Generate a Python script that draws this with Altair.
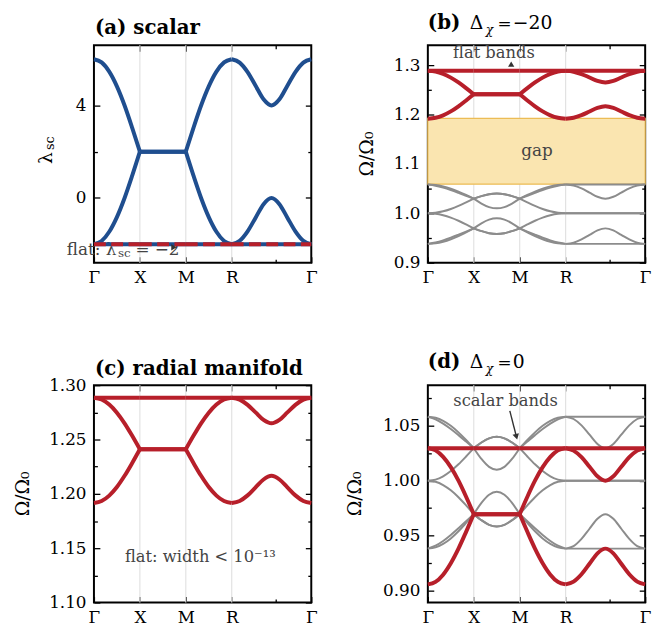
import altair as alt
import pandas as pd

# ---------------- data ----------------
K = [0.0, 0.167, 0.333, 0.5, 0.667, 0.833, 1.0,
     1.167, 1.333, 1.5, 1.667, 1.833, 2.0,
     2.167, 2.333, 2.5, 2.667, 2.833, 3.0,
     3.173, 3.346, 3.52, 3.693, 3.866, 4.039, 4.212, 4.386, 4.559, 4.732]
K_TICKS = [0.0, 1.0, 2.0, 3.0, 4.732]
K_LABELS = ["Γ", "X", "M", "R", "Γ"]
K_GRID = [1.0, 2.0, 3.0]
K_MINOR = [3.96]
SEGMENTS = [(0, 6), (6, 12), (12, 18), (18, 28)]

# (a) scalar bands
LAM_UP = [6.0, 5.864, 5.464, 4.828, 4.0, 3.035, 2.0,
          2.0, 2.0, 2.0, 2.0, 2.0, 2.0,
          3.035, 4.0, 4.828, 5.464, 5.864, 6.0,
          5.854, 5.443, 4.854, 4.268, 4.0, 4.268, 4.854, 5.443, 5.854, 6.0]
LAM_LO = [-2.0, -1.864, -1.464, -0.828, 0.0, 0.965, 2.0,
          2.0, 2.0, 2.0, 2.0, 2.0, 2.0,
          0.965, 0.0, -0.828, -1.464, -1.864, -2.0,
          -1.854, -1.443, -0.854, -0.268, 0.0, -0.268, -0.854, -1.443, -1.854, -2.0]
LAM_FLAT = [-2.0] * 29

# (b),(c) radial-manifold bands
RC_UP = [1.2884, 1.2868, 1.2822, 1.2747, 1.2649, 1.2534, 1.2410,
         1.2410, 1.2410, 1.2410, 1.2410, 1.2410, 1.2410,
         1.2534, 1.2649, 1.2747, 1.2822, 1.2868, 1.2884,
         1.2867, 1.2819, 1.2750, 1.2681, 1.2649, 1.2681, 1.2750, 1.2819, 1.2867, 1.2884]
RC_LO = [1.1916, 1.1934, 1.1984, 1.2063, 1.2166, 1.2284, 1.2410,
         1.2410, 1.2410, 1.2410, 1.2410, 1.2410, 1.2410,
         1.2284, 1.2166, 1.2063, 1.1984, 1.1934, 1.1916,
         1.1935, 1.1986, 1.2060, 1.2132, 1.2166, 1.2132, 1.2060, 1.1986, 1.1935, 1.1916]
RC_FLAT = [1.2884] * 29

# (d) bands
RD_UP = [1.0296, 1.0276, 1.0217, 1.0123, 1.0000, 0.9854, 0.9695,
         0.9695, 0.9695, 0.9695, 0.9695, 0.9695, 0.9695,
         0.9854, 1.0000, 1.0123, 1.0217, 1.0276, 1.0296,
         1.0274, 1.0214, 1.0127, 1.0040, 1.0000, 1.0040, 1.0127, 1.0214, 1.0274, 1.0296]
RD_LO = [0.9055, 0.9078, 0.9144, 0.9248, 0.9381, 0.9534, 0.9695,
         0.9695, 0.9695, 0.9695, 0.9695, 0.9695, 0.9695,
         0.9534, 0.9381, 0.9248, 0.9144, 0.9078, 0.9055,
         0.9080, 0.9147, 0.9243, 0.9338, 0.9381, 0.9338, 0.9243, 0.9147, 0.9080, 0.9055]
RD_FLAT = [1.0296] * 29

# gray (other) bands, panels (b) and (d)
G1 = [1.0583, 1.0573, 1.0545, 1.0500, 1.0440, 1.0371, 1.0296,
      1.0348, 1.0386, 1.0400, 1.0386, 1.0348, 1.0296,
      1.0371, 1.0440, 1.0500, 1.0545, 1.0573, 1.0583,
      1.0583, 1.0583, 1.0583, 1.0583, 1.0583, 1.0583, 1.0583, 1.0583, 1.0583, 1.0583]
G2 = [1.0583, 1.0559, 1.0520, 1.0471, 1.0415, 1.0356, 1.0296,
      1.0348, 1.0386, 1.0400, 1.0386, 1.0348, 1.0296,
      1.0356, 1.0415, 1.0471, 1.0520, 1.0559, 1.0583,
      1.0562, 1.0504, 1.0419, 1.0335, 1.0296, 1.0335, 1.0419, 1.0504, 1.0562, 1.0583]
G3 = [1.0000, 1.0010, 1.0040, 1.0088, 1.0149, 1.0220, 1.0296,
      1.0198, 1.0126, 1.0100, 1.0126, 1.0198, 1.0296,
      1.0220, 1.0149, 1.0088, 1.0040, 1.0010, 1.0000,
      1.0000, 1.0000, 1.0000, 1.0000, 1.0000, 1.0000, 1.0000, 1.0000, 1.0000, 1.0000]
G4 = [1.0000, 0.9990, 0.9960, 0.9912, 0.9849, 0.9775, 0.9695,
      0.9798, 0.9872, 0.9899, 0.9872, 0.9798, 0.9695,
      0.9775, 0.9849, 0.9912, 0.9960, 0.9990, 1.0000,
      1.0000, 1.0000, 1.0000, 1.0000, 1.0000, 1.0000, 1.0000, 1.0000, 1.0000, 1.0000]
G5 = [0.9381, 0.9408, 0.9451, 0.9506, 0.9567, 0.9630, 0.9695,
      0.9640, 0.9598, 0.9583, 0.9598, 0.9640, 0.9695,
      0.9630, 0.9567, 0.9506, 0.9451, 0.9408, 0.9381,
      0.9404, 0.9470, 0.9562, 0.9654, 0.9695, 0.9654, 0.9562, 0.9470, 0.9404, 0.9381]
G6 = [0.9381, 0.9392, 0.9424, 0.9474, 0.9539, 0.9615, 0.9695,
      0.9640, 0.9598, 0.9583, 0.9598, 0.9640, 0.9695,
      0.9615, 0.9539, 0.9474, 0.9424, 0.9392, 0.9381,
      0.9381, 0.9381, 0.9381, 0.9381, 0.9381, 0.9381, 0.9381, 0.9381, 0.9381, 0.9381]

GAP = [1.059, 1.192]

# y axes
YDOM_A, YMAJ_A, YMIN_A = [-2.8, 6.6], [0, 4], [-2, 2, 6]
YDOM_B, YMAJ_B, YMIN_B = [0.9, 1.34], [0.9, 1.0, 1.1, 1.2, 1.3], [0.95, 1.05, 1.15, 1.25]
YDOM_C, YMAJ_C, YMIN_C = [1.10, 1.30], [1.10, 1.15, 1.20, 1.25, 1.30], [1.125, 1.175, 1.225, 1.275]
YDOM_D, YMAJ_D, YMIN_D = [0.889, 1.087], [0.90, 0.95, 1.00, 1.05], [0.925, 0.975, 1.025, 1.075]

# ---------------- style ----------------
FONT = "DejaVu Serif"
BLUE = "#1f4e8f"
RED = "#b71f2a"
GRAY = "#8c8c8c"
GRIDC = "#e2e2e2"
TEXTC = "#444444"
W, H = 220, 220

XLABEL_EXPR = "''"
for t, lab in reversed(list(zip(K_TICKS, K_LABELS))):
    XLABEL_EXPR = f"abs(datum.value - {t}) < 0.01 ? '{lab}' : ({XLABEL_EXPR})"

ONE = pd.DataFrame({"o": [0]})


def scales(ydom):
    xs = alt.Scale(domain=[K[0], K[-1]], nice=False, zero=False)
    ys = alt.Scale(domain=ydom, nice=False, zero=False)
    return xs, ys


def seg_df(bands):
    rows = []
    for name, vals in bands:
        for si, (a, b) in enumerate(SEGMENTS):
            for i in range(a, b + 1):
                rows.append({"k": K[i], "v": vals[i], "line": f"{name}{si}"})
    return pd.DataFrame(rows)


def lines(bands, xs, ys, color, width, dash=None):
    kw = dict(color=color, strokeWidth=width, interpolate="monotone")
    if dash:
        kw["strokeDash"] = dash
    return alt.Chart(seg_df(bands)).mark_line(**kw).encode(
        x=alt.X("k:Q", scale=xs, axis=None),
        y=alt.Y("v:Q", scale=ys, axis=None),
        detail="line:N")


def grid(xs, ys):
    return alt.Chart(pd.DataFrame({"k": K_GRID})).mark_rule(color=GRIDC, strokeWidth=1.2).encode(
        x=alt.X("k:Q", scale=xs, axis=None))


def ptext(text, x, y, size, weight="normal", style="normal", align="left",
          baseline="alphabetic", angle=0, color="black"):
    kw = dict(text=text, font=FONT, fontSize=size, fontWeight=weight, fontStyle=style,
              align=align, baseline=baseline, color=color)
    if angle:
        kw["angle"] = angle
    return alt.Chart(ONE).mark_text(**kw).encode(x=alt.value(x), y=alt.value(y))


def dtext(text, x, y, xs, ys, size=16.5, align="center", baseline="middle", color=TEXTC):
    df = pd.DataFrame({"x": [x], "y": [y], "t": [text]})
    return alt.Chart(df).mark_text(font=FONT, fontSize=size, align=align, baseline=baseline,
                                   color=color).encode(
        x=alt.X("x:Q", scale=xs, axis=None), y=alt.Y("y:Q", scale=ys, axis=None), text="t:N")


def marker(shape, x, y, xs, ys, size=45, angle=0):
    kw = dict(shape=shape, filled=True, size=size, color="#333333", opacity=1)
    if angle:
        kw["angle"] = angle
    df = pd.DataFrame({"x": [x], "y": [y]})
    return alt.Chart(df).mark_point(**kw).encode(
        x=alt.X("x:Q", scale=xs, axis=None), y=alt.Y("y:Q", scale=ys, axis=None))


def axes_layers(xs, ys, ydom, ymaj, ymin, yfmt):
    df = pd.DataFrame({"k": [K[0]], "v": [ydom[0]]})
    base = alt.Chart(df).mark_point(opacity=0)
    common = dict(domain=False, grid=False, title=None, labelFlush=False, labelOverlap=False)
    l1 = base.encode(
        x=alt.X("k:Q", scale=xs, axis=alt.Axis(orient="bottom", values=K_TICKS, labelExpr=XLABEL_EXPR,
                                               tickSize=6, offset=-6, labelPadding=7, **common)),
        y=alt.Y("v:Q", scale=ys, axis=alt.Axis(orient="left", values=ymaj, format=yfmt,
                                               tickSize=6, offset=-6, labelPadding=8, **common)))
    l2 = base.encode(
        x=alt.X("k:Q", scale=xs, axis=alt.Axis(orient="top", values=K_GRID, labels=False,
                                               tickSize=6, offset=-6, **common)),
        y=alt.Y("v:Q", scale=ys, axis=alt.Axis(orient="right", values=ymaj, labels=False,
                                               tickSize=6, offset=-6, **common)))
    l3 = base.encode(
        x=alt.X("k:Q", scale=xs, axis=alt.Axis(orient="bottom", values=K_MINOR, labels=False,
                                               tickSize=3.5, offset=-3.5, **common)),
        y=alt.Y("v:Q", scale=ys, axis=alt.Axis(orient="left", values=ymin, labels=False,
                                               tickSize=3.5, offset=-3.5, **common)))
    l4 = base.encode(
        x=alt.X("k:Q", scale=xs, axis=alt.Axis(orient="top", values=K_MINOR, labels=False,
                                               tickSize=3.5, offset=-3.5, **common)),
        y=alt.Y("v:Q", scale=ys, axis=alt.Axis(orient="right", values=ymin, labels=False,
                                               tickSize=3.5, offset=-3.5, **common)))
    return [l1, l2, l3, l4]


def finish(layers):
    return alt.layer(*layers).resolve_axis(x="independent", y="independent").properties(width=W, height=H)


def omega_title(x):
    return ptext("Ω/Ω₀", x, H / 2, 19, align="center", baseline="middle", angle=270)


def delta_title(letter, value, y):
    return [ptext(letter, 0, y, 20, weight="bold"),
            ptext("Δ", 42.3, y, 19),
            ptext("χ", 58.5, y + 4.5, 12.5, style="italic"),
            ptext("=", 70.5, y, 17),
            ptext(value, 86, y, 19)]


# ---------------- panel (a) ----------------
xs, ys = scales(YDOM_A)
pa = finish([
    grid(xs, ys),
    dtext("flat: λ", 0.488, -2.46, xs, ys, size=17, align="right", baseline="alphabetic"),
    dtext("sc", 0.523, -2.565, xs, ys, size=12, align="left", baseline="alphabetic"),
    dtext("= −2", 0.903, -2.46, xs, ys, size=17, align="left", baseline="alphabetic"),
    lines([("up", LAM_UP), ("lo", LAM_LO), ("flat", LAM_FLAT)], xs, ys, BLUE, 4),
    lines([("flatd", LAM_FLAT)], xs, ys, RED, 4, dash=[12, 5.5]),
    marker("triangle-right", 1.742, -2.137, xs, ys, size=40),
    ptext("(a) scalar", 1, -11, 20, weight="bold"),
    ptext("λ", -48.5, 114, 19, align="center", baseline="middle", angle=270),
    ptext("sc", -44.5, 99, 13, align="center", baseline="middle", angle=270),
] + axes_layers(xs, ys, YDOM_A, YMAJ_A, YMIN_A, "d"))

# ---------------- panel (b) ----------------
xs, ys = scales(YDOM_B)
gap_df = pd.DataFrame({"x0": [K[0]], "x1": [K[-1]], "y0": [GAP[0]], "y1": [GAP[1]]})
gap = alt.Chart(gap_df).mark_rect(fill="#fae5b0", stroke="#ecbc55", strokeWidth=1.2).encode(
    x=alt.X("x0:Q", scale=xs, axis=None), x2="x1:Q",
    y=alt.Y("y0:Q", scale=ys, axis=None), y2="y1:Q")
pb = finish([
    grid(xs, ys),
    gap,
    dtext("gap", 2.377, 1.125, xs, ys, size=17),
    lines([("g1", G1), ("g2", G2), ("g3", G3), ("g4", G4), ("g5", G5), ("g6", G6)], xs, ys, GRAY, 2),
    lines([("up", RC_UP), ("lo", RC_LO), ("flat", RC_FLAT)], xs, ys, RED, 4),
    dtext("flat bands", 1.439, 1.324, xs, ys, size=16.5),
    marker("triangle-up", 1.815, 1.302, xs, ys, size=40),
    omega_title(-61.5),
] + delta_title("(b)", "−20", -16.5) + axes_layers(xs, ys, YDOM_B, YMAJ_B, YMIN_B, ".1f"))

# ---------------- panel (c) ----------------
xs, ys = scales(YDOM_C)
pc = finish([
    grid(xs, ys),
    lines([("up", RC_UP), ("lo", RC_LO), ("flat", RC_FLAT)], xs, ys, RED, 4),
    dtext("flat: width < 10⁻¹³", 2.317, 1.1415, xs, ys, size=16.5),
    ptext("(c) radial manifold", 1, -10.6, 20, weight="bold"),
    omega_title(-71.5),
] + axes_layers(xs, ys, YDOM_C, YMAJ_C, YMIN_C, ".2f"))

# ---------------- panel (d) ----------------
xs, ys = scales(YDOM_D)
arrow_df = pd.DataFrame({"x": [1.785], "y": [1.0636], "x2": [1.929], "y2": [1.040]})
arrow = alt.Chart(arrow_df).mark_rule(color="#333333", strokeWidth=1.4).encode(
    x=alt.X("x:Q", scale=xs, axis=None), y=alt.Y("y:Q", scale=ys, axis=None), x2="x2:Q", y2="y2:Q")
pd_ = finish([
    grid(xs, ys),
    lines([("g1", G1), ("g2", G2), ("g3", G3), ("g4", G4), ("g5", G5), ("g6", G6)], xs, ys, GRAY, 2),
    lines([("up", RD_UP), ("lo", RD_LO), ("flat", RD_FLAT)], xs, ys, RED, 4),
    dtext("scalar bands", 1.692, 1.0726, xs, ys, size=16.5),
    arrow,
    marker("triangle-down", 1.929, 1.040, xs, ys, size=45, angle=345),
    omega_title(-73.7),
] + delta_title("(d)", "0", -17.3) + axes_layers(xs, ys, YDOM_D, YMAJ_D, YMIN_D, ".2f"))

chart = alt.concat(pa, pb, pc, pd_, columns=2, spacing={"row": 124, "column": 118},
                   bounds="flush").properties(
    padding={"left": 5, "top": 0, "right": 5, "bottom": 0}
).configure_view(
    stroke="black", strokeWidth=2
).configure_axis(
    labelFont=FONT, labelFontSize=17, labelColor="black", tickColor="black", tickWidth=1.3
)

chart.save("out.html", embed_options={"renderer": "svg", "actions": False})
